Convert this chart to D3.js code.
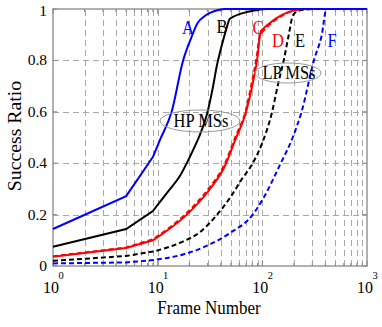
<!DOCTYPE html>
<html>
<head>
<meta charset="utf-8">
<script src="https://cdn.jsdelivr.net/npm/d3@7"></script>
<style>
  body { margin: 0; background: #fff; }
  text { font-family: "Liberation Serif", "DejaVu Serif", serif; }
</style>
</head>
<body>
<div id="chart"></div>
<script>
// curve data, [frame number, success ratio]
var curveA = [[1,.144],[5,.272],[9,.424],[10.5,.49],[13.6,.6],[17.5,.8],[21,.89],[24,.945],[28,.972],[32,.986],[38,.996],[44,1],[1000,1]];
var curveB = [[1,.075],[5,.144],[9,.214],[12.6,.29],[16.3,.35],[19.5,.41],[22,.455],[25.3,.51],[30,.6],[33.5,.69],[36.8,.78],[42,.875],[45,.918],[49,.962],[75,.99],[110,1],[1000,1]];
var curveC = [[1,.036],[5,.07],[9,.10],[19,.2],[30,.288],[44,.39],[55,.49],[70,.6],[80,.7],[89,.8],[97,.915],[256,1],[1000,1]];
var curveD = [[1,.038],[5,.072],[9,.104],[19,.207],[30,.296],[44,.40],[55,.5],[70,.61],[79,.71],[88,.81],[95,.9],[102,.915],[256,1],[1000,1]];
var curveE = [[1,.02],[5,.039],[9,.056],[17.4,.095],[25,.13],[37,.2],[50,.27],[63,.335],[81,.4],[100,.48],[124,.6],[140,.7],[160,.8],[179,.9],[196,.975],[230,.995],[330,1],[1000,1]];
var curveF = [[1,.01],[5,.014],[9,.023],[17.5,.045],[30,.08],[49,.128],[81,.2],[100,.257],[150,.4],[195,.5],[237,.6],[311,.8],[370,.9],[410,1],[1000,1]];

var curveNames = ["A","B","C","D","E","F"];
var yTicks = [0, 0.2, 0.4, 0.6, 0.8, 1];
var yTickLabels = ["0", "0.2", "0.4", "0.6", "0.8", "1"];
var xDecades = [1, 10, 100, 1000];
var xDecadeExp = ["0", "1", "2", "3"];

var W = 382, H = 327;
var svg = d3.select("#chart").append("svg").attr("width", W).attr("height", H);

var x = d3.scaleLog().domain([1, 1000]).range([53, 367]);
var y = d3.scaleLinear().domain([0, 1]).range([266, 9]);

// minor log ticks for grid
var xMinor = [];
for (var d = 1; d < 1000; d *= 10) {
	for (var k = 1; k <= 9; k++) xMinor.push(d * k);
}
xMinor.push(1000);

var grid = svg.append("g").attr("stroke", "#a8a8a8").attr("stroke-width", 1).attr("stroke-dasharray", "6,4");
grid.selectAll(".vg").data(xMinor.filter(function(v) { return v > 1 && v < 1000; }))
	.enter().append("line")
	.attr("x1", function(v) { return Math.round(x(v)) + 0.5; })
	.attr("x2", function(v) { return Math.round(x(v)) + 0.5; })
	.attr("y1", y(0)).attr("y2", y(1));
grid.selectAll(".hg").data(yTicks.slice(1, -1))
	.enter().append("line")
	.attr("x1", x(1)).attr("x2", x(1000))
	.attr("y1", function(v) { return Math.round(y(v)) + 0.5; })
	.attr("y2", function(v) { return Math.round(y(v)) + 0.5; });

// axis box and inward ticks
var box = svg.append("g").attr("stroke", "#888").attr("fill", "none");
box.append("rect").attr("x", x(1)).attr("y", y(1)).attr("width", x(1000) - x(1)).attr("height", y(0) - y(1)).attr("stroke-width", 1.3);
xMinor.forEach(function(v) {
	var len = (xDecades.indexOf(v) >= 0) ? 5 : 3;
	box.append("line").attr("x1", x(v)).attr("x2", x(v)).attr("y1", y(0)).attr("y2", y(0) - len);
	box.append("line").attr("x1", x(v)).attr("x2", x(v)).attr("y1", y(1)).attr("y2", y(1) + len);
});
yTicks.forEach(function(v) {
	box.append("line").attr("x1", x(1)).attr("x2", x(1) + 4).attr("y1", y(v)).attr("y2", y(v));
	box.append("line").attr("x1", x(1000)).attr("x2", x(1000) - 4).attr("y1", y(v)).attr("y2", y(v));
});

// curves: straight segments up to frame 9, smooth after that
var straight = d3.line().x(function(p) { return x(p[0]); }).y(function(p) { return y(p[1]); });
var smooth = d3.line().curve(d3.curveMonotoneX)
	.x(function(p) { return x(p[0]); }).y(function(p) { return y(p[1]); });
function curvePath(data) {
	var head = straight(data.slice(0, 3));
	var tail = smooth(data.slice(2));
	return head + "L" + tail.slice(1);
}
var curves = [
	{ data: curveA, color: "#0000ff", dash: null },
	{ data: curveB, color: "#000000", dash: null },
	{ data: curveC, color: "#ff0000", dash: null },
	{ data: curveD, color: "#ff0000", dash: "5,3" },
	{ data: curveE, color: "#000000", dash: "5,3" },
	{ data: curveF, color: "#0000ff", dash: "5,3" }
];
// draw dashed first so solid ones sit on top
[5, 4, 3, 2, 1, 0].forEach(function(i) {
	var c = curves[i];
	svg.append("path").attr("d", curvePath(c.data)).attr("fill", "none")
		.attr("stroke", c.color).attr("stroke-width", 2)
		.attr("stroke-dasharray", c.dash);
});

// text helper: some texts in the source look slightly stretched vertically
function label(txt, px, py, size, anchor, color, rot, sy) {
	var t = svg.append("text")
		.attr("transform", "translate(" + px + "," + py + ") scale(1," + (sy || 1) + ")" + (rot ? " rotate(" + rot + ")" : ""))
		.attr("font-size", size).attr("text-anchor", anchor || "start")
		.attr("fill", color || "#000").text(txt);
	return t;
}

// ellipses
svg.append("ellipse").attr("cx", 200).attr("cy", 121).attr("rx", 40).attr("ry", 11)
	.attr("fill", "none").attr("stroke", "#999").attr("stroke-width", 1);
svg.append("ellipse").attr("cx", 288).attr("cy", 73).attr("rx", 33).attr("ry", 10)
	.attr("fill", "none").attr("stroke", "#999").attr("stroke-width", 1);
label("HP MSs", 201, 127, 16.5, "middle", "#000", 0, 1.1);
label("LP MSs", 289, 79, 16.5, "middle", "#000", 0, 1.1);

// curve letters
var letterPos = [[188, 34, "#0000ff"], [222, 33, "#000"], [258, 34, "#ff0000"], [278, 47, "#ff0000"], [300, 47, "#000"], [332, 47, "#0000ff"]];
curveNames.forEach(function(n, i) {
	label(n, letterPos[i][0], letterPos[i][1], 16.5, "middle", letterPos[i][2], 0, 1.1);
});

// y tick labels
yTicks.forEach(function(v, i) {
	label(yTickLabels[i], 47, y(v) + 5 + (v === 1 ? 2 : 0), 15.5, "end");
});
// x tick labels
xDecades.forEach(function(v, i) {
	label("10", x(v) - 2, 293, 16, "middle");
	label(xDecadeExp[i], x(v) + 8, 279, 10.5, "middle");
});

label("Frame Number", 209, 314, 17, "middle", "#000", 0, 1.1);
label("Success Ratio", 21, 136, 18, "middle", "#000", -90, 1.1);
</script>
</body>
</html>
